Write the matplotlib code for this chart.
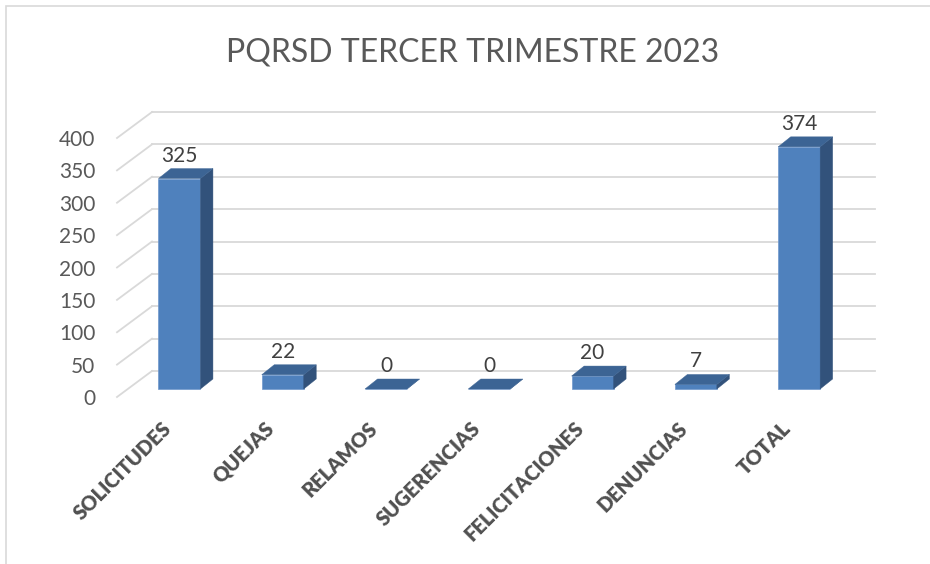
import matplotlib
matplotlib.use("Agg")
import matplotlib.pyplot as plt
import matplotlib.transforms as mtransforms
from matplotlib.patches import Polygon, Rectangle

categories = ["SOLICITUDES", "QUEJAS", "RELAMOS", "SUGERENCIAS",
              "FELICITACIONES", "DENUNCIAS", "TOTAL"]
values = [325, 22, 0, 0, 20, 7, 374]
yticks = [0, 50, 100, 150, 200, 250, 300, 350, 400]
title = "PQRSD TERCER TRIMESTRE 2023"

FONT = ["Lato", "DejaVu Sans"]
plt.rcParams["font.family"] = FONT

W, H, DPI = 930, 564, 100
fig = plt.figure(figsize=(W / DPI, H / DPI), dpi=DPI)
fig.patch.set_facecolor("white")

# chart border (left & top visible)
fig.patches.append(Rectangle((6 / W, -0.1), 1.2, (H - 6) / H + 0.1,
                             transform=fig.transFigure, fill=False,
                             edgecolor="#D9D9D9", linewidth=1.2))

# front plane of the 3D box
ax_left, ax_right = 117, 840
ax_top, ax_bottom = 138, 397
ax = fig.add_axes([ax_left / W, (H - ax_bottom) / H,
                   (ax_right - ax_left) / W, (ax_bottom - ax_top) / H])
n = len(categories)
ax.set_xlim(-0.5, n - 0.5)
ax.set_ylim(0, 400)
for s in ax.spines.values():
    s.set_visible(False)
ax.set_facecolor("none")
ax.set_xticks([])
ax.set_yticks(yticks)
ax.tick_params(axis="y", length=0, pad=15.5, labelsize=15, labelcolor="#595959")

def px_off(dx, dy):
    return mtransforms.ScaledTranslation(dx / DPI, dy / DPI, fig.dpi_scale_trans)

px_x = (ax_right - ax_left) / n
px_y = (ax_bottom - ax_top) / 400.0

# back wall
BACK_DX, BACK_DY = 35, 26
back = ax.transData + px_off(BACK_DX, BACK_DY)
grid_c = "#D9D9D9"
for t in yticks:
    ax.plot([-0.5, n - 0.5], [t, t], color=grid_c, lw=1.3,
            transform=back, clip_on=False, zorder=1)
    ax.plot([-0.5, -0.5 + BACK_DX / px_x], [t, t + BACK_DY / px_y],
            color=grid_c, lw=1.3, clip_on=False, zorder=1)

# bars
BAR_DX, BAR_DY = 10.8, 8
DEP_DX, DEP_DY = 12.5, 10
bw = 42 / px_x
front_c, side_c, top_c = "#4F81BD", "#32527B", "#3C6494"
bar_t = ax.transData + px_off(BAR_DX, BAR_DY)
ddx, ddy = DEP_DX / px_x, DEP_DY / px_y
for i, v in enumerate(values):
    x0, x1 = i - bw / 2, i + bw / 2
    ax.bar(i, v, width=bw, color=front_c, edgecolor="#6F97CC", linewidth=0.5,
           transform=bar_t, clip_on=False, zorder=3)
    side = Polygon([(x1, 0), (x1 + ddx, ddy), (x1 + ddx, v + ddy), (x1, v)],
                   closed=True, facecolor=side_c, edgecolor=side_c, lw=0.3,
                   transform=bar_t, clip_on=False, zorder=3)
    top = Polygon([(x0, v), (x1, v), (x1 + ddx, v + ddy), (x0 + ddx, v + ddy)],
                  closed=True, facecolor=top_c, edgecolor=top_c, lw=0.3,
                  transform=bar_t, clip_on=False, zorder=3)
    ax.add_patch(side)
    ax.add_patch(top)
    ax.text(i, v, str(v), ha="center", va="baseline", fontsize=15,
            color="#404040", transform=bar_t + px_off(0, 17), clip_on=False)
    ax.text(i, 0, categories[i], ha="right", va="center", rotation=45,
            rotation_mode="anchor", fontsize=14.5, fontweight="heavy",
            color="#505050", transform=ax.transData + px_off(-1, -28),
            clip_on=False)

fig.text(473 / W, (H - 62) / H, title, ha="center", va="baseline",
         fontsize=23, color="#595959")

fig.savefig("out.png", dpi=DPI, facecolor="white")
